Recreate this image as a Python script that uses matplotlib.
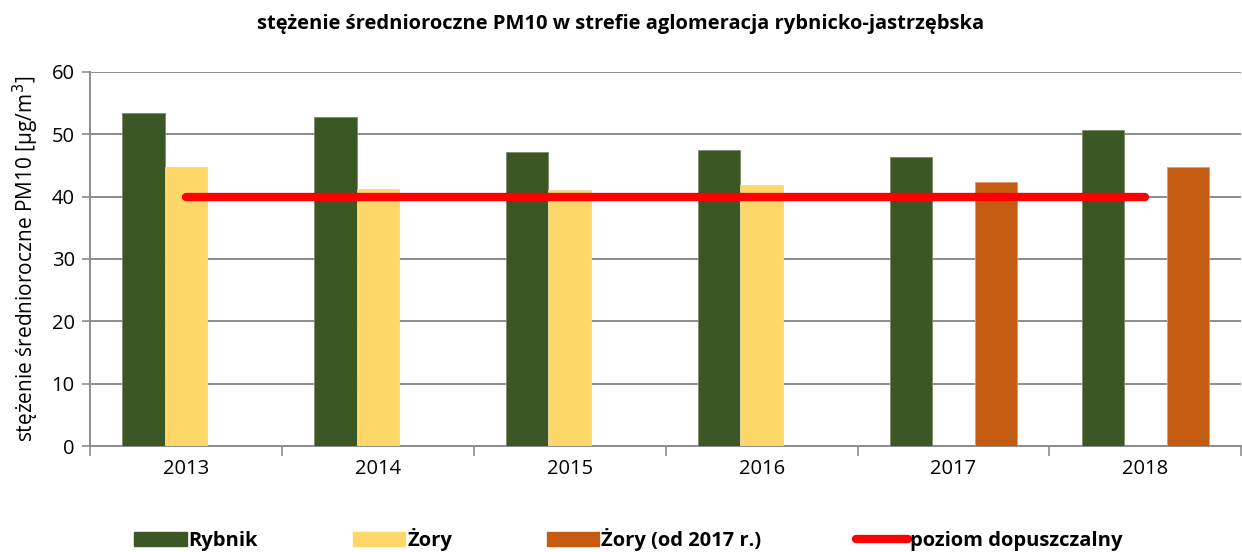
import numpy as np
import matplotlib
matplotlib.use('Agg')
import matplotlib.pyplot as plt
from matplotlib.lines import Line2D
from matplotlib.patches import Patch

plt.rcParams['font.family'] = ['Open Sans', 'DejaVu Sans']

years = ['2013', '2014', '2015', '2016', '2017', '2018']
rybnik = [53.4, 52.8, 47.2, 47.5, 46.4, 50.7]
zory = [44.8, 41.3, 41.1, 41.8, np.nan, np.nan]
zory_2017 = [np.nan, np.nan, np.nan, np.nan, 42.3, 44.7]
limit = [40, 40, 40, 40, 40, 40]

c_ryb = '#3B5724'
c_zory = '#FDD868'
c_zory17 = '#C55A11'
c_lim = '#FF0000'
grid_c = '#8C8C8C'

fig = plt.figure(figsize=(12.42, 5.52), dpi=100)
ax = fig.add_axes([0.0725, 0.192, 0.927, 0.6776])

x = np.arange(len(years))
w = 0.222
ax.bar(x - w, rybnik, w, color=c_ryb, edgecolor='#7A8A6A', linewidth=0.6, zorder=3)
ax.bar(x, zory, w, color=c_zory, edgecolor='#E8D9A8', linewidth=0.6, zorder=3)
ax.bar(x + w, zory_2017, w, color=c_zory17, edgecolor='#D99A70', linewidth=0.6, zorder=3)
ax.plot(x, limit, color=c_lim, lw=6, solid_capstyle='round', zorder=4)

ax.set_xlim(-0.5, len(years) - 0.5)
ax.set_ylim(0, 60)
ax.set_yticks(range(0, 61, 10))
ax.yaxis.grid(True, color=grid_c, lw=1.4, zorder=0)
ax.set_axisbelow(True)

ax.set_xticks(np.arange(-0.5, len(years), 1.0))
ax.set_xticklabels([])
ax.set_xticks(x, minor=True)
ax.set_xticklabels(years, minor=True)
ax.tick_params(axis='x', which='major', length=7, width=1.2, color=grid_c)
ax.tick_params(axis='x', which='minor', length=0, pad=9, labelsize=14.5)
ax.tick_params(axis='y', length=6, width=1.2, color=grid_c, labelsize=14.5, pad=5)

for s in ['top', 'right']:
    ax.spines[s].set_visible(False)
for s in ['left', 'bottom']:
    ax.spines[s].set_color(grid_c)
    ax.spines[s].set_linewidth(1.4)

ax.set_ylabel('stężenie średnioroczne PM10 [µg/m$^3$]', fontsize=15, labelpad=8)
fig.text(0.5, 0.957, 'stężenie średnioroczne PM10 w strefie aglomeracja rybnicko-jastrzębska',
         ha='center', va='center', fontsize=14.5, fontweight='bold')

handles = [Patch(color=c_ryb), Patch(color=c_zory), Patch(color=c_zory17),
           Line2D([0], [0], color=c_lim, lw=6, solid_capstyle='round')]
labels = ['Rybnik', 'Żory', 'Żory (od 2017 r.)', 'poziom dopuszczalny']
leg = fig.legend(handles, labels, loc='center', bbox_to_anchor=(0.506, 0.022), ncol=4,
                 frameon=False, handlelength=2.6, handleheight=0.7, handletextpad=0.1,
                 columnspacing=4.7, prop={'size': 14.5, 'weight': 'bold'})

fig.savefig('out.png', dpi=100)
